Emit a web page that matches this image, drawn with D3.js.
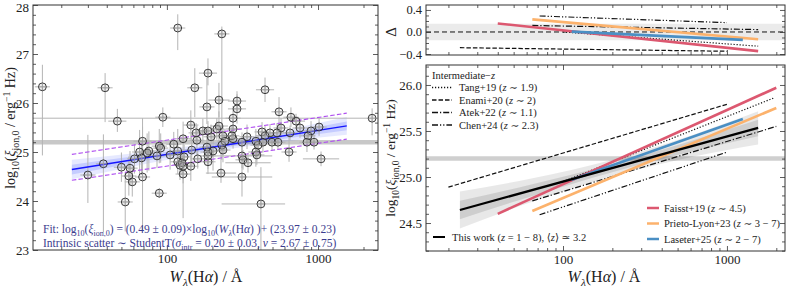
<!DOCTYPE html>
<html><head><meta charset="utf-8">
<script src="https://cdn.jsdelivr.net/npm/d3@7"></script>
<style>
body{margin:0;background:#fff}
svg{display:block}
text{font-family:"Liberation Serif","DejaVu Serif",serif;white-space:pre;fill:#222}
</style></head>
<body><svg id="c" width="793" height="288"></svg>
<script>
// ---------------- DATA ----------------
// Left panel: individual galaxies, W_lambda(Halpha) [Angstrom] and log10 xi_ion,0
const ewHa = [15,39,47,94,118,153,231,187,446,184,221,291,274,552,662,715,760,1016,899,859,2280,69,111,144,156,173,187,214,221,274,196,235,158,128,274,339,426,481,569,653,446,388,432,496,543,314,231,184,202,146,118,105,86,89,91,76,66,68,61,38,30,50,57,56,59,69,118,122,128,130,128,160,187,144,187,228,314,319,388,394,314,89,53,419,344,643,1047,235,845,941,269,242,187,401,74,126,535,291];
const logXi = [26.33,26.31,25.63,25.71,27.53,26.31,27.41,26.61,26.27,25.92,26.06,26.04,25.69,25.82,25.71,25.63,25.49,25.51,25.43,25.33,25.69,25.22,25.16,25.55,25.39,25.43,25.43,25.47,25.53,25.47,25.31,25.33,25.24,25.27,25.27,25.31,25.41,25.39,25.49,25.39,25.33,25.22,25.20,25.20,25.20,25.20,25.14,25.10,25.02,25.04,25.02,24.94,24.92,25.12,25.08,25.02,25.00,24.88,24.86,24.76,24.53,24.69,24.67,24.51,24.39,24.49,24.80,24.73,24.71,24.90,24.55,24.86,24.80,24.71,24.92,24.57,24.92,24.84,25.00,24.94,24.49,24.16,23.98,23.94,24.78,25.00,24.86,25.04,25.20,25.20,25.33,25.22,25.00,25.14,24.98,24.78,25.39,25.88];
const yErrLo = [1.40,0.70,0.22,0.20,0.45,0.60,2.20,0.25,0.25,0.35,0.35,0.20,0.25,0.35,0.20,0.15,0.20,0.18,0.20,0.18,0.35,0.25,0.30,0.30,0.20,0.25,0.20,0.22,0.30,0.20,0.25,0.20,0.30,0.45,0.20,0.25,0.20,0.18,0.20,0.15,0.20,0.25,0.20,0.18,0.15,0.20,0.30,0.25,0.40,0.35,0.30,0.30,0.25,0.35,0.30,0.40,0.45,0.35,0.30,1.40,0.57,0.30,0.35,0.40,0.30,1.10,0.25,0.30,0.35,0.25,0.90,0.20,0.25,0.30,0.20,0.20,0.25,0.20,0.30,0.20,0.40,0.10,0.60,0.94,0.20,0.20,0.15,0.25,0.20,0.15,0.20,0.25,0.35,0.20,0.40,0.25,0.20,0.30];
const yErrHi = [0.45,0.30,0.25,0.20,0.28,0.40,0.15,0.30,0.25,0.60,0.35,0.20,0.25,0.30,0.20,0.15,0.20,0.18,0.20,0.18,0.20,0.30,0.25,0.30,0.20,0.25,0.20,0.22,0.30,0.20,0.25,0.20,0.30,0.35,0.20,0.25,0.20,0.18,0.20,0.15,0.20,0.25,0.20,0.18,0.15,0.20,0.30,0.25,0.35,0.35,0.45,0.30,0.25,0.35,0.30,0.40,0.45,0.35,0.30,0.60,0.82,0.30,0.35,0.40,0.30,1.20,0.25,0.30,0.35,0.25,0.30,0.20,0.25,0.30,0.20,0.50,0.25,0.20,0.30,0.20,0.40,0.10,0.60,0.75,0.20,0.35,0.15,0.25,0.20,0.15,0.20,0.25,0.35,0.20,0.40,0.25,0.20,0.30];
const xErrLoDex = [0.05,0.05,0.06,0.05,0.05,0.05,0.05,0.06,0.06,0.05,0.07,0.06,0.05,0.05,0.05,0.06,0.05,0.05,0.05,0.05,2.25,0.06,0.05,0.05,0.05,0.05,0.05,0.05,0.06,0.05,0.05,0.06,0.05,0.05,0.05,0.05,0.05,0.05,0.05,0.05,0.06,0.05,0.05,0.05,0.05,0.05,0.05,0.05,0.05,0.05,0.05,0.05,0.05,0.05,0.05,0.05,0.05,0.05,0.05,0.05,0.05,0.05,0.05,0.05,0.05,0.05,0.05,0.05,0.05,0.05,0.05,0.05,0.05,0.05,0.05,0.10,0.20,0.05,0.05,0.05,0.20,0.05,0.05,0.26,0.15,0.05,0.12,0.05,0.05,0.05,0.05,0.05,0.05,0.05,0.05,0.05,0.05,0.06];
const xErrHiDex = [0.05,0.05,0.06,0.05,0.05,0.05,0.05,0.06,0.06,0.05,0.07,0.06,0.05,0.05,0.05,0.06,0.05,0.05,0.05,0.05,0.05,0.06,0.05,0.05,0.05,0.05,0.05,0.05,0.06,0.05,0.05,0.06,0.05,0.05,0.05,0.05,0.05,0.05,0.05,0.05,0.06,0.05,0.05,0.05,0.05,0.05,0.05,0.05,0.05,0.05,0.05,0.05,0.05,0.05,0.05,0.05,0.05,0.05,0.05,0.05,0.05,0.05,0.05,0.05,0.05,0.05,0.05,0.05,0.05,0.05,0.05,0.05,0.05,0.05,0.05,0.10,0.20,0.05,0.05,0.05,0.20,0.05,0.05,0.16,0.15,0.05,0.12,0.05,0.05,0.05,0.05,0.05,0.05,0.05,0.05,0.05,0.05,0.06];

// Fit of this work
const fitSlope = 0.49, fitIntercept = 23.97;
const fitRangeEW = [23.5, 1550];
const bandEW = [23.5, 63, 200, 630, 1550];
const band1sig = [0.10, 0.065, 0.045, 0.06, 0.09];
const band2sig = [0.20, 0.13, 0.09, 0.12, 0.18];
const scatterEW = [23.5, 1550];
const scatterUp = [0.31, 0.26];
const scatterDn = [-0.22, -0.27];
const refLevel = 25.2;

// Literature relations (end points)
const litNames   = ["Tang+19","Enami+20","Atek+22","Chen+24","Faisst+19","Prieto-Lyon+23","Laseter+25"];
const litEWStart = [100, 20, 65, 72, 40, 65, 113];
const litEWEnd   = [1940, 1000, 2000, 1000, 2000, 2000, 1250];
const litXiStart = [24.95, 24.89, 24.74, 24.59, 24.60, 24.63, 24.97];
const litXiEnd   = [25.86, 25.79, 25.55, 25.27, 25.97, 25.75, 25.63];
const litZ       = ["1.9","2","1.1","2.3","4.5","3 − 7","2 − 7"];

// Tick values
const leftYTicks = [23,24,25,26,27,28];
const rightYTicks = [24.5,25.0,25.5,26.0];
const deltaTicks = [-0.4,0.0,0.4];
const xTicks = [100,1000];

// ---------------- STYLES ----------------
const litStyle = {
  "Tang+19":{c:"#111",w:1.2,d:"1.2,1.8"},
  "Enami+20":{c:"#111",w:1.2,d:"4.5,2"},
  "Atek+22":{c:"#111",w:1.2,d:"6,2,1.2,2"},
  "Chen+24":{c:"#111",w:1.2,d:"6,2,1.2,2,1.2,2"},
  "Faisst+19":{c:"#dc5870",w:2.6,d:null},
  "Prieto-Lyon+23":{c:"#fcb26c",w:2.6,d:null},
  "Laseter+25":{c:"#4a8fc4",w:2.6,d:null}
};

const svg = d3.select("#c");

function rich(t, parts, fs) {
  let cur = 0;
  parts.forEach(p => {
    const [s, st] = typeof p === "string" ? [p, ""] : p;
    let target = 0, size = fs;
    if (st.includes("sub")) { target = fs * 0.28; size = fs * 0.7; }
    if (st.includes("sup")) { target = -fs * 0.38; size = fs * 0.7; }
    const ts = t.append("tspan").text(s).attr("font-size", size).attr("dy", target - cur);
    if (st.includes("i")) ts.attr("font-style", "italic");
    cur = target;
  });
}

function frameAxes(g, x, y, w, h, xMaj, xMin, yMaj, yMin, showX, yFmt, fs) {
  const mk = (axis, tr) => g.append("g").attr("transform", tr).call(axis);
  const style = sel => { sel.select(".domain").remove(); sel.selectAll("line").attr("stroke", "#333").attr("stroke-width", 0.8); };
  const xb = mk(d3.axisBottom(x).tickValues(xMaj).tickSize(-5).tickPadding(4).tickFormat(showX ? d3.format("d") : ""), `translate(0,${h})`);
  style(xb); xb.selectAll("text").attr("font-size", fs).attr("fill", "#222").attr("font-family", "Liberation Serif, serif");
  style(mk(d3.axisBottom(x).tickValues(xMin).tickSize(-3).tickFormat(""), `translate(0,${h})`));
  style(mk(d3.axisTop(x).tickValues(xMaj).tickSize(-5).tickFormat(""), `translate(0,0)`));
  style(mk(d3.axisTop(x).tickValues(xMin).tickSize(-3).tickFormat(""), `translate(0,0)`));
  const yl = mk(d3.axisLeft(y).tickValues(yMaj).tickSize(-5).tickPadding(4).tickFormat(yFmt), `translate(0,0)`);
  style(yl); yl.selectAll("text").attr("font-size", fs).attr("fill", "#222").attr("font-family", "Liberation Serif, serif");
  style(mk(d3.axisLeft(y).tickValues(yMin).tickSize(-3).tickFormat(""), `translate(0,0)`));
  style(mk(d3.axisRight(y).tickValues(yMaj).tickSize(-5).tickFormat(""), `translate(${w},0)`));
  style(mk(d3.axisRight(y).tickValues(yMin).tickSize(-3).tickFormat(""), `translate(${w},0)`));
  g.append("rect").attr("width", w).attr("height", h).attr("fill", "none").attr("stroke", "#333").attr("stroke-width", 1);
  return yl;
}

function logMinor(lo, hi) {
  const out = [];
  for (let d = 1; d <= 1000; d *= 10) for (let k = 2; k <= 9; k++) { const v = k * d; if (v > lo && v < hi) out.push(v); }
  return out;
}
function range(a, b, s) { const o = []; for (let v = a; v <= b + 1e-9; v += s) o.push(+v.toFixed(4)); return o; }

const fit = ew => fitSlope * Math.log10(ew) + fitIntercept;
const lit = i => ew => {
  const l0 = Math.log10(litEWStart[i]), l1 = Math.log10(litEWEnd[i]);
  const t = (Math.log10(ew) - l0) / (l1 - l0);
  return litXiStart[i] + t * (litXiEnd[i] - litXiStart[i]);
};

// ---------------- LEFT PANEL ----------------
{
  const L = {x: 33, y: 5, w: 345, h: 245};
  const g = svg.append("g").attr("transform", `translate(${L.x},${L.y})`);
  const x = d3.scaleLog().domain([13.0, 2494]).range([0, L.w]);
  const y = d3.scaleLinear().domain([23, 28]).range([L.h, 0]);
  g.append("clipPath").attr("id", "clipL").append("rect").attr("width", L.w).attr("height", L.h);
  const c = g.append("g").attr("clip-path", "url(#clipL)");

  c.append("line").attr("x1", 0).attr("x2", L.w).attr("y1", y(refLevel)).attr("y2", y(refLevel))
    .attr("stroke", "#c8c8c8").attr("stroke-width", 4.5);

  const bandData = bandEW.map((e, i) => ({e, f: fit(e), b1: band1sig[i], b2: band2sig[i]}));
  c.append("path").datum(bandData).attr("fill", "rgba(100,120,255,0.16)")
    .attr("d", d3.area().curve(d3.curveMonotoneX).x(d => x(d.e)).y0(d => y(d.f - d.b2)).y1(d => y(d.f + d.b2)));
  c.append("path").datum(bandData).attr("fill", "rgba(80,100,255,0.22)")
    .attr("d", d3.area().curve(d3.curveMonotoneX).x(d => x(d.e)).y0(d => y(d.f - d.b1)).y1(d => y(d.f + d.b1)));

  // error bars
  const eb = c.append("g").attr("stroke", "#b4b4b4").attr("stroke-width", 1);
  ewHa.forEach((e, i) => {
    const lw = Math.log10(e);
    eb.append("line").attr("x1", x(e)).attr("x2", x(e)).attr("y1", y(logXi[i] - yErrLo[i])).attr("y2", y(logXi[i] + yErrHi[i]));
    eb.append("line").attr("x1", x(Math.pow(10, lw - xErrLoDex[i]))).attr("x2", x(Math.pow(10, lw + xErrHiDex[i])))
      .attr("y1", y(logXi[i])).attr("y2", y(logXi[i]));
  });

  // fit & scatter lines
  c.append("path").datum(fitRangeEW).attr("fill", "none").attr("stroke", "#1515ff").attr("stroke-width", 1.5)
    .attr("d", d3.line().x(d => x(d)).y(d => y(fit(d))));
  [scatterUp, scatterDn].forEach(off => {
    c.append("path").datum(scatterEW.map((e, i) => [e, off[i]])).attr("fill", "none").attr("stroke", "#b050f0")
      .attr("stroke-width", 1.1).attr("stroke-dasharray", "4.5,2.2")
      .attr("d", d3.line().x(d => x(d[0])).y(d => y(fit(d[0]) + d[1])));
  });

  // points
  c.append("g").selectAll("circle").data(ewHa).join("circle")
    .attr("cx", d => x(d)).attr("cy", (d, i) => y(logXi[i])).attr("r", 3.9)
    .attr("fill", "rgba(190,190,190,0.22)").attr("stroke", "#222").attr("stroke-width", 0.9);
  const cr = c.append("g").attr("stroke", "#9a9a9a").attr("stroke-width", 0.8);
  ewHa.forEach((e, i) => {
    cr.append("line").attr("x1", x(e)).attr("x2", x(e)).attr("y1", y(logXi[i]) - 3.4).attr("y2", y(logXi[i]) + 3.4);
    cr.append("line").attr("x1", x(e) - 3.4).attr("x2", x(e) + 3.4).attr("y1", y(logXi[i])).attr("y2", y(logXi[i]));
  });

  const yax = frameAxes(g, x, y, L.w, L.h, xTicks, logMinor(13, 2494), leftYTicks, range(23, 28, 0.2).filter(v => !leftYTicks.includes(v)), true, d3.format("d"), 13);
  yax.selectAll("text").filter(d => d === 28).attr("dy", "0.5em");

  const tc = "#3c3c8e";
  const t1 = g.append("text").attr("x", 10).attr("y", 228).style("fill", tc);
  rich(t1, ["Fit: log", ["10", "sub"], "(", ["ξ", "i"], ["ion,0", "sub"], ") = (0.49 ± 0.09)×log", ["10", "sub"], "(", ["W", "i"], ["λ", "sub i"], "(H", ["α", "i"], ") )+ (23.97 ± 0.23)"], 11.5);
  const t2 = g.append("text").attr("x", 10).attr("y", 242).style("fill", tc);
  rich(t2, ["Intrinsic scatter ∼ StudentT(", ["σ", "i"], ["intr", "sub"], " = 0.20 ± 0.03, ", ["ν", "i"], " = 2.67 ± 0.75)"], 11.5);

  const xl = svg.append("text").attr("x", 206).attr("y", 282).attr("text-anchor", "middle");
  rich(xl, [["W", "i"], ["λ", "sub i"], "(H", ["α", "i"], ") / Å"], 16);
  const yl = svg.append("text").attr("transform", "translate(15,128) rotate(-90)").attr("text-anchor", "middle");
  rich(yl, ["log", ["10", "sub"], "(", ["ξ", "i"], ["ion,0", "sub"], " / erg", ["−1", "sup"], " Hz)"], 14);
}

// ---------------- RIGHT PANELS ----------------
{
  const T = {x: 426, y: 5, w: 359, h: 50};
  const B = {x: 426, y: 65, w: 359, h: 186};
  const x = d3.scaleLog().domain([14.6, 2260]).range([0, T.w]);

  // Top: Delta panel
  const gt = svg.append("g").attr("transform", `translate(${T.x},${T.y})`);
  const yt = d3.scaleLinear().domain([-0.418, 0.49]).range([T.h, 0]);
  gt.append("clipPath").attr("id", "clipT").append("rect").attr("width", T.w).attr("height", T.h);
  const ct = gt.append("g").attr("clip-path", "url(#clipT)");
  ct.append("rect").attr("x", 0).attr("width", T.w).attr("y", yt(0.15)).attr("height", yt(-0.15) - yt(0.15)).attr("fill", "#ebebeb");
  ct.append("line").attr("x1", 0).attr("x2", T.w).attr("y1", yt(0)).attr("y2", yt(0)).attr("stroke", "#111").attr("stroke-width", 1).attr("stroke-dasharray", "5,3");
  litNames.forEach((n, i) => {
    const a = Math.max(litEWStart[i], fitRangeEW[0]), b = Math.min(litEWEnd[i], fitRangeEW[1]);
    const s = litStyle[n];
    const p = ct.append("path").datum([a, b]).attr("fill", "none").attr("stroke", s.c).attr("stroke-width", s.w)
      .attr("d", d3.line().x(d => x(d)).y(d => yt(fit(d) - lit(i)(d))));
    if (s.d) p.attr("stroke-dasharray", s.d);
  });
  frameAxes(gt, x, yt, T.w, T.h, xTicks, logMinor(14.6, 2260), deltaTicks, range(-0.4, 0.4, 0.1).filter(v => !deltaTicks.includes(v)), false, d3.format(".1f"), 12.5);
  svg.append("text").attr("transform", `translate(396,${T.y + yt(0)}) rotate(-90)`).attr("text-anchor", "middle").attr("font-size", 15).text("Δ");

  // Bottom panel
  const gb = svg.append("g").attr("transform", `translate(${B.x},${B.y})`);
  const yb = d3.scaleLinear().domain([24.196, 26.217]).range([B.h, 0]);
  gb.append("clipPath").attr("id", "clipB").append("rect").attr("width", B.w).attr("height", B.h);
  const cb = gb.append("g").attr("clip-path", "url(#clipB)");
  cb.append("line").attr("x1", 0).attr("x2", B.w).attr("y1", yb(refLevel)).attr("y2", yb(refLevel)).attr("stroke", "#cfcfcf").attr("stroke-width", 4.5);
  const bandData = bandEW.map((e, i) => ({e, f: fit(e), b1: band1sig[i], b2: band2sig[i]}));
  cb.append("path").datum(bandData).attr("fill", "rgba(0,0,0,0.09)")
    .attr("d", d3.area().curve(d3.curveMonotoneX).x(d => x(d.e)).y0(d => yb(d.f - d.b2)).y1(d => yb(d.f + d.b2)));
  cb.append("path").datum(bandData).attr("fill", "rgba(0,0,0,0.11)")
    .attr("d", d3.area().curve(d3.curveMonotoneX).x(d => x(d.e)).y0(d => yb(d.f - d.b1)).y1(d => yb(d.f + d.b1)));
  litNames.forEach((n, i) => {
    const s = litStyle[n];
    const p = cb.append("path").datum([litEWStart[i], litEWEnd[i]]).attr("fill", "none").attr("stroke", s.c).attr("stroke-width", s.w)
      .attr("d", d3.line().x(d => x(d)).y(d => yb(lit(i)(d))));
    if (s.d) p.attr("stroke-dasharray", s.d);
  });
  cb.append("path").datum(fitRangeEW).attr("fill", "none").attr("stroke", "#000").attr("stroke-width", 2.2)
    .attr("d", d3.line().x(d => x(d)).y(d => yb(fit(d))));
  frameAxes(gb, x, yb, B.w, B.h, xTicks, logMinor(14.6, 2260), rightYTicks, range(24.2, 26.2, 0.1).filter(v => !rightYTicks.some(t => Math.abs(t - v) < 1e-6)), true, d3.format(".1f"), 13);

  // legend 1 (intermediate z)
  const lg = gb.append("g").attr("transform", "translate(6,10)");
  rich(lg.append("text").attr("x", 0).attr("y", 3.5), ["Intermediate−", ["z", "i"]], 10.5);
  [0, 1, 2, 3].forEach((i, k) => {
    const yy = 12.5 * (k + 1);
    const s = litStyle[litNames[i]];
    lg.append("line").attr("x1", 0).attr("x2", 20).attr("y1", yy).attr("y2", yy).attr("stroke", s.c).attr("stroke-width", 1.4).attr("stroke-dasharray", s.d);
    const t = lg.append("text").attr("x", 27).attr("y", yy + 3.5);
    rich(t, [litNames[i] + " (", ["z", "i"], " ∼ " + litZ[i] + ")"], 10.5);
  });
  // legend 2
  const lg2 = gb.append("g").attr("transform", "translate(221,143)");
  [4, 5, 6].forEach((i, k) => {
    const yy = 15.5 * k;
    const s = litStyle[litNames[i]];
    lg2.append("line").attr("x1", 0).attr("x2", 12).attr("y1", yy).attr("y2", yy).attr("stroke", s.c).attr("stroke-width", 2.5);
    const t = lg2.append("text").attr("x", 17).attr("y", yy + 3.5);
    rich(t, [litNames[i] + " (", ["z", "i"], " ∼ " + litZ[i] + ")"], 10.5);
  });
  // this work legend
  const lg3 = gb.append("g").attr("transform", "translate(7,172)");
  lg3.append("line").attr("x1", 0).attr("x2", 12).attr("y1", 0).attr("y2", 0).attr("stroke", "#000").attr("stroke-width", 2);
  rich(lg3.append("text").attr("x", 19).attr("y", 3.5), ["This work (", ["z", "i"], " = 1 − 8), ⟨", ["z", "i"], "⟩ ≃ 3.2"], 10.5);

  const xl = svg.append("text").attr("x", 604).attr("y", 282).attr("text-anchor", "middle");
  rich(xl, [["W", "i"], ["λ", "sub i"], "(H", ["α", "i"], ") / Å"], 16);
  const yl = svg.append("text").attr("transform", `translate(395,${B.y + B.h / 2}) rotate(-90)`).attr("text-anchor", "middle");
  rich(yl, ["log", ["10", "sub"], "(", ["ξ", "i"], ["ion,0", "sub"], " / erg", ["−1", "sup"], " Hz)"], 13.5);
}
</script></body></html>
